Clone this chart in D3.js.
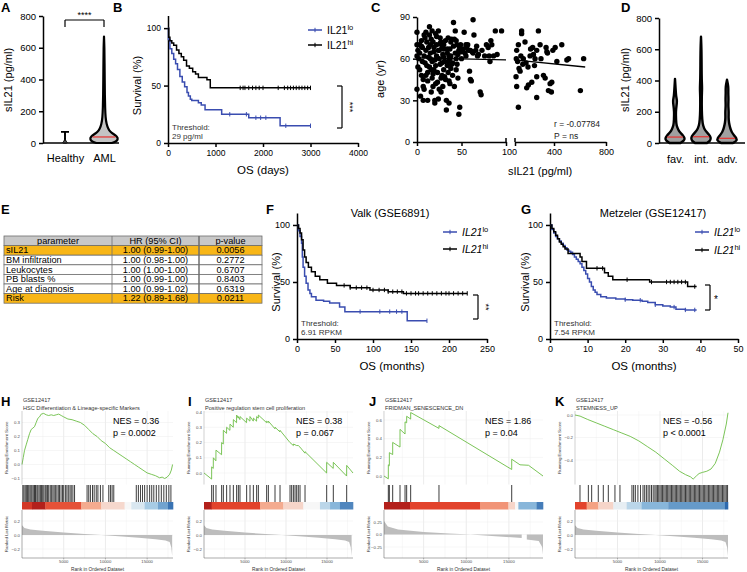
<!DOCTYPE html>
<html><head><meta charset="utf-8">
<script src="https://cdn.jsdelivr.net/npm/d3@7"></script>
<style>
body{margin:0;background:#fff;}
</style></head><body>
<svg id="fig" width="747" height="572"></svg>
<script>
// ---------------- DATA ----------------
// Panel A
const aCategories = ["Healthy", "AML"];
const aHealthyShape = [[0,0.25],[4,0.35],[12,0.1],[30,0.04],[70,0.0]];
const aAmlShape = [[0,0.55],[10,0.9],[25,1.0],[40,0.95],[55,0.7],[70,0.45],[90,0.3],[120,0.18],[160,0.11],[220,0.08],[300,0.06],[400,0.05],[500,0.04],[600,0.03],[670,0]];
const aHealthyMax = 70;
const aMedians = [3, 38];
const aTicks = [0,200,400,600,800];

// Panel B (days, survival %)
const bLo = [[0,100],[10,90],[40,82],[80,78],[120,73],[160,69],[200,64],[250,58],[300,53],[350,49],[400,44],[430,41],[470,38],[500,37],[640,35],[700,33],[780,29],[1130,25],[1700,22],[2360,15],[3000,15]];
const bHi = [[0,100],[15,92],[40,89],[80,87],[120,85],[180,81],[230,78],[280,75],[330,72],[390,67],[450,65],[520,62],[580,60],[640,57],[820,55],[890,48],[3000,48]];
const bCensorLo = [1300,1650,1850,1950,2060,2480,3000];
const bCensorHi = [1520,1580,1620,1700,1780,1850,1920,2000,2320,2450,2520,2580,2640,2700,2760,2820,2880,2940,3000];
const bXTicks = [0,1000,2000,3000,4000];

// Panel C (sIL21 pg/ml, age yr)
const cLow = [[0,79],[0,70],[1,66],[0,62],[2,60],[1,54],[3,52],[0,38],[4,33],[3,64],[5,73],[6,68],[6,58],[7,45],[7,40],[8,38],[8,62],[9,75],[10,79],[10,66],[11,72],[11,55],[12,50],[12,44],[12,30],[14,83],[14,77],[15,70],[15,64],[15,60],[16,36],[16,74],[17,58],[17,46],[18,40],[18,72],[19,68],[19,65],[20,30],[20,28],[21,55],[21,78],[22,62],[22,70],[23,50],[23,43],[24,31],[24,80],[25,66],[25,60],[26,56],[26,75],[27,46],[27,72],[28,48],[28,68],[29,40],[29,63],[30,52],[30,70],[31,47],[31,58],[32,45],[33,23],[33,30],[34,64],[34,55],[35,75],[35,50],[36,28],[36,44],[37,67],[37,60],[38,72],[38,62],[39,56],[40,48],[41,86],[41,69],[42,40],[43,80],[43,64],[44,60],[44,52],[45,70],[46,63],[46,46],[47,20],[47,66],[48,25],[49,70],[50,60],[52,67],[53,79],[54,64],[55,62],[56,68],[57,70],[58,66],[59,51],[60,45],[61,44],[63,88],[64,77],[63,64],[66,66],[67,69],[68,62],[69,63],[71,36],[72,34],[73,66],[76,62],[78,70],[80,68],[81,62],[82,58],[83,73],[84,70],[86,62],[88,80],[90,63],[95,80],[5,48],[9,57],[13,68],[16,52],[18,49],[20,59],[22,76],[24,66],[26,71],[28,57],[30,61],[32,73],[34,67],[36,62],[38,53],[40,57],[42,74],[44,73],[13,61],[10,48],[21,42],[25,38],[27,36],[7,30],[30,67],[14,54],[17,80],[19,52],[35,58],[37,42],[39,74],[45,56],[48,68],[50,65],[55,70],[60,66],[62,65],[5,69],[3,70],[8,77]];
const cHigh = [[113,66],[126,70],[151,80],[108,47],[113,40],[131,53],[139,51],[151,78],[126,25],[164,60],[177,72],[190,39],[203,41],[216,62],[229,43],[236,68],[242,63],[254,60],[267,66],[267,47],[267,32],[280,80],[293,70],[319,48],[332,46],[339,68],[345,65],[357,37],[370,42],[383,43],[391,66],[409,68],[422,58],[460,70],[499,59],[512,60],[603,37],[628,60],[110,60],[120,58],[145,62],[160,56],[185,57],[200,54],[220,67],[250,55],[300,60],[350,64],[380,36]];
const cFitLow = [[0,60.5],[100,59.2]];
const cFitHigh = [[110,59],[640,54]];
const cYTicks = [0,30,60,90];

// Panel D
const dCategories = ["fav.", "int.", "adv."];
const dShapes = [
  [[0,0.55],[15,0.9],[30,1],[50,0.8],[70,0.45],[90,0.3],[110,0.15],[150,0.1],[200,0.08],[240,0.15],[270,0.22],[300,0.1],[350,0.06],[410,0]],
  [[0,0.6],[15,0.95],[35,1],[55,0.8],[80,0.4],[110,0.2],[150,0.12],[200,0.08],[300,0.07],[350,0.12],[400,0.07],[500,0.06],[600,0.05],[680,0]],
  [[0,0.6],[15,1],[30,0.95],[50,0.7],[70,0.45],[100,0.3],[130,0.2],[160,0.15],[200,0.18],[240,0.12],[280,0.16],[320,0.12],[360,0.15],[405,0]]
];
const dMedians = [38, 40, 30];

// Panel E
const eHeader = ["parameter", "HR (95% CI)", "p-value"];
const eParams = ["sIL21", "BM infiltration", "Leukocytes", "PB blasts %", "Age at diagnosis", "Risk"];
const eHR = ["1.00 (0.99-1.00)", "1.00 (0.98-1.00)", "1.00 (1.00-1.00)", "1.00 (0.99-1.00)", "1.00 (0.99-1.02)", "1.22 (0.89-1.68)"];
const ePval = ["0.0056", "0.2772", "0.6707", "0.8403", "0.6319", "0.0211"];
const eHighlight = [true, false, false, false, false, true];

// Panel F (months)
const fLo = [[0,100],[2,95],[4,90],[6,84],[7,72],[8,63],[10,55],[12,49],[14.5,43],[17,40],[19,37],[25,34],[35,33],[43,31.5],[56,28],[63,24],[145,16],[171,16]];
const fHi = [[0,100],[2,97],[4,93],[6,87],[8,78],[10,72],[12,67],[15,63],[19,59],[24,55],[30,52],[40,49],[52,47],[70,45],[96,43],[120,41.5],[140,40],[224,40]];
const fCensorLo = [83,109,122,131,138,171];
const fCensorHi = [62,70,78,85,92,100,108,115,120,126,132,138,144,150,156,160,166,172,178,184,190,196,200,206,212,218,224];
const fXTicks = [0,50,100,150,200,250];

// Panel G (months)
const gLo = [[0,100],[0.5,96],[1,93],[1.5,90],[2,88],[2.5,86],[3,84],[3.5,82],[4,80],[4.5,78],[5,77],[5.5,76],[6,74],[6.5,72],[7,70],[7.5,68],[8,66],[8.5,63],[9,60],[9.5,57],[10,53],[10.5,50],[11,46],[11.5,43],[12,41],[12.5,39],[13.5,37],[15,36],[17.5,35],[20,34.5],[22,34],[24.5,33],[26,32],[28,30],[30,29],[32,28],[33.5,26],[36,25.5],[39,25.5]];
const gHi = [[0,100],[0.5,97],[1,94],[1.5,91],[2,88],[2.5,85],[3,83],[3.5,81],[4,79],[4.8,75],[8,72],[8.5,68],[9.7,62],[14.5,58],[15.5,55],[16.7,52],[26.5,50],[36.6,46],[39,46]];
const gCensorLo = [20,24,28,33,36,38.5];
const gCensorHi = [12.5,14,20.5,27,31,32,33,34,35,36,38.5];
const gXTicks = [0,10,20,30,40,50];
const survTicks = [0,50,100];

// GSEA panels H-K (rank, enrichment score)
const esH = [[0,0],[150,0.05],[300,0.1],[500,0.14],[700,0.18],[900,0.22],[1100,0.25],[1300,0.26],[1500,0.27],[1700,0.3],[1900,0.33],[2100,0.34],[2300,0.36],[2600,0.365],[2900,0.355],[3200,0.35],[3500,0.355],[3800,0.35],[4100,0.355],[4400,0.36],[4700,0.35],[5000,0.34],[5500,0.325],[6000,0.32],[6500,0.31],[7000,0.3],[7500,0.28],[8000,0.25],[8500,0.22],[9000,0.2],[9500,0.17],[10000,0.15],[10500,0.12],[11000,0.1],[11500,0.08],[12000,0.06],[12500,0.04],[13000,0.02],[13500,0.0],[14000,-0.02],[14500,-0.04],[15000,-0.06],[15500,-0.07],[16000,-0.08],[16500,-0.095],[16800,-0.09],[17100,-0.1],[17400,-0.09],[17700,-0.07],[17900,-0.04],[18050,0.0]];
const esI = [[0,0.0],[930,-0.04],[935,0.04],[1130,0.03],[1140,0.1],[1450,0.08],[1460,0.15],[2140,0.12],[2150,0.2],[2350,0.19],[2360,0.28],[2750,0.26],[2760,0.3],[3160,0.28],[3170,0.32],[3570,0.3],[3580,0.35],[3970,0.33],[3980,0.38],[4180,0.36],[4190,0.37],[4380,0.35],[4390,0.37],[5190,0.33],[5200,0.36],[5600,0.34],[5610,0.37],[6010,0.34],[6020,0.36],[6410,0.34],[6420,0.37],[6620,0.36],[6630,0.38],[7630,0.33],[7640,0.34],[7840,0.33],[7850,0.34],[8650,0.29],[8660,0.3],[9260,0.27],[9270,0.28],[10480,0.2],[10900,0.18],[10910,0.19],[11300,0.18],[11500,0.18],[11700,0.17],[12310,0.13],[12320,0.14],[14950,0.0],[14960,0.07],[15760,0.03],[15770,0.07],[17390,-0.02],[17400,0.05],[18170,0.0]];
const esJ = [[350,0],[860,-0.03],[860,0.12],[980,0.11],[980,0.25],[1370,0.23],[1370,0.36],[2230,0.31],[2230,0.50],[2820,0.45],[2820,0.58],[3010,0.57],[3010,0.64],[3480,0.61],[3480,0.68],[6800,0.51],[6800,0.54],[15330,0.07],[15330,0.18],[16300,0.12],[17300,0.115],[19000,0.0]];
const esK = [[0,0.0],[600,-0.01],[1500,-0.04],[2500,-0.07],[3500,-0.1],[4500,-0.13],[5500,-0.16],[6500,-0.19],[7500,-0.23],[8500,-0.28],[9500,-0.33],[10500,-0.39],[11500,-0.45],[12300,-0.5],[13000,-0.53],[13600,-0.55],[13900,-0.57],[14300,-0.54],[14600,-0.52],[15000,-0.51],[15500,-0.5],[16000,-0.48],[16500,-0.43],[17000,-0.33],[17400,-0.22],[17800,-0.08],[18000,0.02]];

const hitsH = [100,230,380,520,650,800,950,1080,1200,1350,1500,1620,1780,1900,2050,2200,2330,2480,2620,2780,2900,3050,3200,3380,3520,3700,3850,4000,4180,4350,4500,4680,4850,5000,5200,5380,5550,5750,5900,6100,6300,7800,8000,8200,8450,8650,8900,9100,9400,9700,10400,10600,10800,11000,13700,13950,14200,14450,14700,15000,15300,15550,15800,16100,16400,16700,17000,17300,17600,17850];
const hitsI = [935,1140,1460,2150,2360,2760,3170,3580,3980,4190,4390,5200,5610,6020,6420,6630,7640,7850,8660,9270,10490,10690,10900,11100,11300,11500,11710,12320,14960,15770,17400];
const hitsJ = [860,980,1370,2230,2820,3010,3480,6800,15330];
const hitsK = [587,1570,1960,2740,3330,3920,4700,5290,6700,6900,7100,7400,7700,8000,8200,8400,8600,8800,9000,9200,9400,9550,9700,9850,10000,10150,10300,10450,10600,10750,10900,11050,11200,11350,11500,11650,11800,11950,12100,12250,12400,12550,12700,12850,13000,13150,13300,13450,13600,13750,13900,14050,14200,14350,14500,14650,14800,14950,15100,15250,15400,15550,15700,15850,16000,16150,16300,16450,16600,16750,16900,17050,17200,17350,17500,17650,17800,17950];

// colour-bar bins: [rankStart, rankEnd, signed level]
const binsH = [[0,1200,0.9],[1200,2800,1.0],[2800,7100,0.8],[7100,9500,0.45],[9500,12300,0.18],[12300,13100,0],[13100,14700,-0.15],[14700,16300,-0.4],[16300,17500,-0.65],[17500,18100,-0.9]];
const binsI = [[0,935,1.0],[935,6830,0.85],[6830,9670,0.45],[9670,12110,0.2],[12110,14140,0],[14140,15370,-0.3],[15370,16580,-0.55],[16580,18170,-0.8]];
const binsJ = [[350,3400,1.0],[3400,11610,0.85],[11610,14940,0.55],[14940,15720,0.2],[15720,16110,0],[16110,18260,-0.55],[18260,19000,-0.85]];
const binsK = [[0,1370,0.85],[1370,2740,0.5],[2740,4510,0.2],[4510,6080,-0.08],[6080,7840,-0.3],[7840,10970,-0.55],[10970,17640,-0.7],[17640,18000,-0.95]];

// ranked list metric
const metricHIK = [[0,0.14],[300,0.1],[1000,0.08],[2500,0.06],[5000,0.035],[7500,0.015],[9500,0],[12000,-0.02],[14000,-0.04],[16000,-0.06],[17200,-0.08],[17700,-0.1],[17900,-0.18],[18000,-0.3]];
const metricJ = [[350,0.27],[800,0.16],[2000,0.1],[5000,0.05],[8000,0.02],[10500,0],[13000,-0.03],[16500,-0.07],[16510,null],[17090,null],[17100,-0.1],[18500,-0.13],[18900,-0.25],[19000,-0.4]];

// ---------------- DRAWING ----------------
const FONT = '"Liberation Sans", Arial, Helvetica, sans-serif';
const svg = d3.select("#fig").attr("font-family", FONT);
svg.append("rect").attr("width",747).attr("height",572).attr("fill","#fff");
const BLUE = "#3a4db0";

function letter(x, y, t) {
  svg.append("text").attr("x", x).attr("y", y).attr("font-size", 13).attr("font-weight", "bold").text(t);
}
function text(x, y, t, fs, anchor, fill) {
  return svg.append("text").attr("x", x).attr("y", y).attr("font-size", fs)
    .attr("text-anchor", anchor || "start").attr("fill", fill || "#000").text(t);
}
function rotText(x, y, t, fs) {
  svg.append("text").attr("transform", `translate(${x},${y}) rotate(-90)`)
    .attr("text-anchor", "middle").attr("font-size", fs).text(t);
}
function styleAxis(g, fs, sw) {
  g.selectAll("path.domain").attr("stroke", "#000").attr("stroke-width", sw || 1.5);
  g.selectAll(".tick line").attr("stroke", "#000").attr("stroke-width", sw || 1.5);
  g.selectAll(".tick text").attr("font-size", fs).attr("font-family", FONT).attr("fill", "#000");
}
function line(x1, y1, x2, y2, sw, col) {
  svg.append("line").attr("x1", x1).attr("y1", y1).attr("x2", x2).attr("y2", y2)
    .attr("stroke", col || "#000").attr("stroke-width", sw || 1.2);
}

// ---- violin helper
function violin(shape, cx, yS, half, fill, sw, median) {
  const area = d3.area().curve(d3.curveBasis)
    .y(d => yS(d[0])).x0(d => cx - d[1] * half).x1(d => cx + d[1] * half);
  svg.append("path").datum(shape).attr("d", area).attr("fill", fill)
    .attr("stroke", "#000").attr("stroke-width", sw).attr("stroke-linejoin", "round");
  if (median !== undefined) {
    const wAt = d3.scaleLinear().domain(shape.map(d => d[0])).range(shape.map(d => d[1]));
    const w = wAt(median) * half * 0.85;
    line(cx - w, yS(median), cx + w, yS(median), 1.2, "#e8312f");
  }
}

// ===== Panel A =====
letter(1, 12, "A");
{
  const y = d3.scaleLinear().domain([0, 800]).range([143, 16]);
  const x = d3.scalePoint().domain(aCategories).range([65, 104]);
  const ga = svg.append("g").attr("transform", "translate(43,0)")
    .call(d3.axisLeft(y).tickValues(aTicks).tickSize(4).tickSizeOuter(0));
  styleAxis(ga, 9.5);
  line(43, 143, 119, 143, 1.6);
  const gx = svg.append("g").attr("transform", "translate(0,143)")
    .call(d3.axisBottom(x).tickSize(0).tickPadding(11));
  gx.select("path.domain").remove();
  gx.selectAll(".tick text").attr("font-size", 11).attr("font-family", FONT).attr("fill", "#000");
  rotText(12, 80, "sIL21 (pg/ml)", 11);
  // healthy
  const hx = x("Healthy");
  line(hx, y(0), hx, y(aHealthyMax), 1.8);
  line(hx - 4, y(aHealthyMax), hx + 4, y(aHealthyMax), 1.8);
  violin(aHealthyShape, hx, y, 7, "#555", 1, undefined);
  // AML
  violin(aAmlShape, x("AML"), y, 14, "#c4c4c4", 2.2, aMedians[1]);
  // bracket
  line(hx, 27, hx, 20, 1.2); line(hx, 20, x("AML"), 20, 1.2); line(x("AML"), 20, x("AML"), 27, 1.2);
  text((hx + x("AML")) / 2, 18, "****", 9, "middle");
}

// ===== KM helper =====
function drawKM(o) {
  const x = d3.scaleLinear().domain(o.xDomain).range(o.xRange);
  const y = d3.scaleLinear().domain([0, o.yMax]).range(o.yRange);
  const gx = svg.append("g").attr("transform", `translate(0,${o.yRange[0]})`)
    .call(d3.axisBottom(x).tickValues(o.xTicks).tickSize(4).tickSizeOuter(0).tickFormat(d3.format("d")));
  styleAxis(gx, o.tickFs);
  const gy = svg.append("g").attr("transform", `translate(${o.xRange[0]},0)`)
    .call(d3.axisLeft(y).tickValues(survTicks).tickSize(4).tickSizeOuter(0));
  styleAxis(gy, o.tickFs);
  const ln = d3.line().x(d => x(d[0])).y(d => y(d[1])).curve(d3.curveStepAfter);
  o.curves.forEach(c => {
    svg.append("path").datum(c.data).attr("d", ln).attr("fill", "none")
      .attr("stroke", c.color).attr("stroke-width", 1.5);
    c.censor.forEach(t => {
      let s = c.data[0][1];
      c.data.forEach(d => { if (d[0] <= t) s = d[1]; });
      line(x(t), y(s) - 2.2, x(t), y(s) + 2.2, 1, c.color);
    });
  });
  rotText(o.yLabelX, y(50), "Survival (%)", 11);
  text((o.xRange[0] + o.xRange[1]) / 2, o.yRange[0] + 31, o.xLabel, 11.5, "middle");
  // legend
  o.curves.forEach((c, i) => {
    const ly = o.legend[1] + i * o.legend[2];
    line(o.legend[0], ly, o.legend[0] + 14, ly, 1.5, c.color);
    line(o.legend[0] + 7, ly - 2.2, o.legend[0] + 7, ly + 2.2, 1, c.color);
    const t = svg.append("text").attr("x", o.legend[0] + 19).attr("y", ly + 3.5).attr("font-size", 10.5)
      .attr("font-style", o.italic ? "italic" : "normal");
    t.append("tspan").text("IL21");
    t.append("tspan").attr("dy", -4).attr("font-size", 7.5).attr("font-style", "normal").text(c.sup);
  });
  // bracket
  const b = o.bracket;
  line(b[0] - 5, b[1], b[0], b[1], 1.2); line(b[0], b[1], b[0], b[2], 1.2); line(b[0] - 5, b[2], b[0], b[2], 1.2);
  if (o.starsRot) {
    svg.append("text").attr("transform", `translate(${b[0] + 5},${(b[1] + b[2]) / 2}) rotate(90)`)
      .attr("text-anchor", "middle").attr("font-size", 9).text(o.stars);
  } else {
    text(b[0] + 4, (b[1] + b[2]) / 2 + 5, o.stars, 10, "start");
  }
  text(o.xRange[0] + 4, o.thrY, "Threshold:", 8, "start", "#333");
  text(o.xRange[0] + 4, o.thrY + 9, o.thr, 8, "start", "#333");
}

// ===== Panel B =====
letter(113, 12, "B");
drawKM({
  xDomain: [0, 4000], xRange: [168, 358], yMax: 111, yRange: [143, 15.5], xTicks: bXTicks,
  tickFs: 8.5, yLabelX: 141, xLabel: "OS (days)",
  curves: [{data: bLo, color: BLUE, censor: bCensorLo, sup: "lo"}, {data: bHi, color: "#000", censor: bCensorHi, sup: "hi"}],
  legend: [308, 30, 15], italic: false, bracket: [342, 86, 128], stars: "***", starsRot: true,
  thrY: 130, thr: "29 pg/ml"
});

// ===== Panel C =====
letter(371, 12, "C");
{
  const y = d3.scaleLinear().domain([0, 90]).range([142, 17]);
  const x1 = d3.scaleLinear().domain([0, 100]).range([417, 506]);
  const x2 = d3.scaleLinear().domain([100, 800]).range([515, 606]);
  const gy = svg.append("g").attr("transform", "translate(417,0)")
    .call(d3.axisLeft(y).tickValues(cYTicks).tickSize(4).tickSizeOuter(0));
  styleAxis(gy, 9);
  const g1 = svg.append("g").attr("transform", "translate(0,142)")
    .call(d3.axisBottom(x1).tickValues([0, 50, 100]).tickSize(4).tickSizeOuter(0));
  styleAxis(g1, 9);
  g1.selectAll(".tick text").filter(d => d === 100).attr("dx", 3);
  const g2 = svg.append("g").attr("transform", "translate(0,142)")
    .call(d3.axisBottom(x2).tickValues([100, 400, 800]).tickSize(4).tickSizeOuter(0));
  styleAxis(g2, 9);
  g2.selectAll(".tick text").filter(d => d === 100).remove();
  line(x1(100), 138, x1(100), 142, 1.5); line(x2(100), 138, x2(100), 142, 1.5);
  svg.append("g").selectAll("circle").data(cLow).join("circle")
    .attr("cx", d => x1(d[0])).attr("cy", d => y(d[1])).attr("r", 2.7).attr("fill", "#000");
  svg.append("g").selectAll("circle").data(cHigh).join("circle")
    .attr("cx", d => x2(d[0])).attr("cy", d => y(d[1])).attr("r", 2.7).attr("fill", "#000");
  const l1 = d3.line().x(d => x1(d[0])).y(d => y(d[1]));
  const l2 = d3.line().x(d => x2(d[0])).y(d => y(d[1]));
  svg.append("path").attr("d", l1(cFitLow)).attr("stroke", "#000").attr("stroke-width", 1.3).attr("fill", "none");
  svg.append("path").attr("d", l2(cFitHigh)).attr("stroke", "#000").attr("stroke-width", 1.3).attr("fill", "none");
  rotText(384, 79, "age (yr)", 11);
  text(540, 175, "sIL21 (pg/ml)", 11, "middle");
  text(554, 127, "r = -0.07784", 8.5, "start", "#222");
  text(554, 139, "P = ns", 8.5, "start", "#222");
}

// ===== Panel D =====
letter(621, 12, "D");
{
  const y = d3.scaleLinear().domain([0, 800]).range([143, 18]);
  const x = d3.scalePoint().domain(dCategories).range([675, 727]);
  const gy = svg.append("g").attr("transform", "translate(659,0)")
    .call(d3.axisLeft(y).tickValues(aTicks).tickSize(4).tickSizeOuter(0));
  styleAxis(gy, 9.5);
  line(659, 143, 745, 143, 1.6);
  const gx = svg.append("g").attr("transform", "translate(0,143)")
    .call(d3.axisBottom(x).tickSize(0).tickPadding(12));
  gx.select("path.domain").remove();
  gx.selectAll(".tick text").attr("font-size", 11).attr("font-family", FONT).attr("fill", "#000");
  rotText(629, 80, "sIL21 (pg/ml)", 11);
  dCategories.forEach((c, i) => violin(dShapes[i], x(c), y, 10, "#a0a0a0", 2.4, dMedians[i]));
}

// ===== Panel E =====
letter(1, 214, "E");
{
  const cols = [4, 112, 199, 262];
  const top = 236, rh = 9.6;
  const rows = [eHeader].concat(eParams.map((p, i) => [p, eHR[i], ePval[i]]));
  rows.forEach((r, i) => {
    const fill = i === 0 ? "#c8c8c8" : (eHighlight[i - 1] ? "#f8b617" : "#fff");
    svg.append("rect").attr("x", cols[0]).attr("y", top + i * rh).attr("width", cols[3] - cols[0]).attr("height", rh)
      .attr("fill", fill).attr("stroke", "#6e6e6e").attr("stroke-width", 0.8);
    r.forEach((v, j) => {
      const cx = (j === 0 && i > 0) ? cols[0] + 2 : (cols[j] + cols[j + 1]) / 2;
      text(cx, top + i * rh + 7.8, v, 9.2, (j === 0 && i > 0) ? "start" : "middle", "#000");
    });
  });
  [1, 2].forEach(j => line(cols[j], top, cols[j], top + rows.length * rh, j === 2 ? 1.5 : 0.8, "#6e6e6e"));
}

// ===== Panel F =====
letter(266, 214, "F");
text(390, 217, "Valk (GSE6891)", 11, "middle");
drawKM({
  xDomain: [0, 250], xRange: [297, 487], yMax: 110.5, yRange: [339, 213], xTicks: fXTicks,
  tickFs: 9, yLabelX: 280, xLabel: "OS (months)",
  curves: [{data: fLo, color: BLUE, censor: fCensorLo, sup: "lo"}, {data: fHi, color: "#000", censor: fCensorHi, sup: "hi"}],
  legend: [443, 232, 17], italic: true, bracket: [478, 295, 319], stars: "**", starsRot: true,
  thrY: 326, thr: "6.91 RPKM"
});

// ===== Panel G =====
letter(521, 214, "G");
text(653, 217, "Metzeler (GSE12417)", 11, "middle");
drawKM({
  xDomain: [0, 50], xRange: [550, 738], yMax: 110.5, yRange: [339, 213], xTicks: gXTicks,
  tickFs: 9, yLabelX: 529, xLabel: "OS (months)",
  curves: [{data: gLo, color: BLUE, censor: gCensorLo, sup: "lo"}, {data: gHi, color: "#000", censor: gCensorHi, sup: "hi"}],
  legend: [695, 232, 18], italic: true, bracket: [710, 285, 310], stars: "*", starsRot: false,
  thrY: 326, thr: "7.54 RPKM"
});

// ===== GSEA panels =====
const levelColor = d3.scaleLinear().domain([-1, -0.5, 0, 0.5, 0.85, 1])
  .range(["#2360a8", "#93c0df", "#f7f7f7", "#f4a283", "#e2432c", "#b3201b"]);
const fmt1 = d => d === 0 ? "0.0" : d3.format(".1f")(d);
const fmt2 = d => d === 0 ? "0.0" : d3.format(".2f")(d);
const gseaPanels = [
  {letter: "H", name: "HSC Differentiation & Lineage-specific Markers", nes: "NES = 0.36", p: "p = 0.0002",
   es: esH, hits: hitsH, bins: binsH, metric: metricHIK, esTicks: [-0.1, 0, 0.1, 0.2, 0.3], esDom: [-0.1, 0.3], esRng: [478.5, 422.5],
   mTicks: [-0.2, 0, 0.2], mDom: [-0.2, 0.2], mRng: [549, 521], mFmt: fmt1, xMax: 18100, xl: 22, xr: 173, lx: 1, nx: 113},
  {letter: "I", name: "Positive regulation stem cell proliferation", nes: "NES = 0.38", p: "p = 0.067",
   es: esI, hits: hitsI, bins: binsI, metric: metricHIK, esTicks: [0, 0.1, 0.2, 0.3, 0.4], esDom: [0, 0.4], esRng: [473, 412],
   mTicks: [-0.2, 0, 0.2], mDom: [-0.2, 0.2], mRng: [549, 521], mFmt: fmt1, xMax: 18170, xl: 204, xr: 353, lx: 188, nx: 296},
  {letter: "J", name: "FRIDMAN_SENESCENCE_DN", nes: "NES = 1.86", p: "p = 0.04",
   es: esJ, hits: hitsJ, bins: binsJ, metric: metricJ, esTicks: [0, 0.2, 0.4, 0.6], esDom: [0, 0.6], esRng: [476, 420],
   mTicks: [-0.25, 0, 0.25], mDom: [-0.25, 0.25], mRng: [547, 522], mFmt: fmt2, xMax: 19000, xl: 381, xr: 543, lx: 369, nx: 485},
  {letter: "K", name: "STEMNESS_UP", nes: "NES = -0.56", p: "p < 0.0001",
   es: esK, hits: hitsK, bins: binsK, metric: metricHIK, esTicks: [-0.4, -0.2, 0], esDom: [-0.4, 0], esRng: [460, 415],
   mTicks: [-0.2, 0, 0.2], mDom: [-0.2, 0.2], mRng: [549, 521], mFmt: fmt1, xMax: 18000, xl: 575, xr: 728, lx: 555, nx: 663}
];
const ES_TOP = 411, ES_BOT = 484.5, HIT_TOP = 485, HIT_BOT = 502, BAR_TOP = 502, BAR_BOT = 509.5, M_TOP = 510, M_BOT = 558;

gseaPanels.forEach(p => {
  const x = d3.scaleLinear().domain([0, p.xMax]).range([p.xl, p.xr]);
  const yE = d3.scaleLinear().domain(p.esDom).range(p.esRng);
  const yM = d3.scaleLinear().domain(p.mDom).range(p.mRng);
  const left = Math.max(p.xl, x(p.bins[0][0]));
  letter(p.lx, 406, p.letter);
  text(left + 1, 402, "GSE12417", 5.6, "start", "#333");
  text(left + 1, 410, p.name, 5.6, "start", "#333");
  const grid = svg.append("g");
  [2500, 5000, 7500, 10000, 12500, 15000, 17500].forEach(r => {
    const major = r % 5000 === 0;
    [[ES_TOP, ES_BOT], [M_TOP, M_BOT]].forEach(rg => {
      grid.append("line").attr("x1", x(r)).attr("x2", x(r)).attr("y1", rg[0]).attr("y2", rg[1])
        .attr("stroke", major ? "#e3e3e3" : "#f0f0f0").attr("stroke-width", major ? 0.7 : 0.5);
    });
  });
  p.esTicks.forEach(t => grid.append("line").attr("x1", left).attr("x2", p.xr).attr("y1", yE(t)).attr("y2", yE(t))
    .attr("stroke", "#ececec").attr("stroke-width", 0.5));
  p.mTicks.forEach(t => grid.append("line").attr("x1", left).attr("x2", p.xr).attr("y1", yM(t)).attr("y2", yM(t))
    .attr("stroke", "#ececec").attr("stroke-width", 0.5));
  // ES curve
  svg.append("path").datum(p.es).attr("d", d3.line().x(d => x(d[0])).y(d => yE(d[1])))
    .attr("fill", "none").attr("stroke", "#6cbd45").attr("stroke-width", 0.9);
  // ES ticks
  p.esTicks.forEach(t => text(left - 2, yE(t) + 1.5, fmt1(t), 4.3, "end", "#4d4d4d"));
  svg.append("text").attr("transform", `translate(${left - 14},${(ES_TOP + ES_BOT) / 2}) rotate(-90)`)
    .attr("text-anchor", "middle").attr("font-size", 4.4).attr("fill", "#333").text("Running Enrichment Score");
  line(left, ES_TOP, left, ES_BOT, 0.4, "#888");
  // hits
  svg.append("g").selectAll("line").data(p.hits).join("line")
    .attr("x1", d => x(d)).attr("x2", d => x(d)).attr("y1", HIT_TOP).attr("y2", HIT_BOT)
    .attr("stroke", "#111").attr("stroke-width", 0.9).attr("opacity", 0.9);
  // colour bar
  svg.append("g").selectAll("rect").data(p.bins).join("rect")
    .attr("x", d => x(d[0])).attr("width", d => x(d[1]) - x(d[0]) + 0.3)
    .attr("y", BAR_TOP).attr("height", BAR_BOT - BAR_TOP).attr("fill", d => levelColor(d[2]));
  // ranked list metric
  const area = d3.area().defined(d => d[1] !== null).x(d => x(d[0])).y0(yM(0)).y1(d => yM(d[1]));
  svg.append("path").datum(p.metric).attr("d", area).attr("fill", "#bdbdbd");
  p.mTicks.forEach(t => text(left - 2, yM(t) + 1.5, p.mFmt(t), 4.3, "end", "#4d4d4d"));
  svg.append("text").attr("transform", `translate(${left - 14},${(M_TOP + M_BOT) / 2}) rotate(-90)`)
    .attr("text-anchor", "middle").attr("font-size", 4.4).attr("fill", "#333").text("Ranked List Metric");
  line(left, M_TOP, left, M_BOT, 0.5, "#555");
  line(left, M_BOT, p.xr, M_BOT, 0.5, "#555");
  [5000, 10000, 15000].forEach(r => {
    line(x(r), M_BOT, x(r), M_BOT + 1.5, 0.4, "#555");
    text(x(r), M_BOT + 5, String(r), 4.2, "middle", "#4d4d4d");
  });
  text((left + p.xr) / 2, 571, "Rank in Ordered Dataset", 4.8, "middle", "#333");
  // NES
  text(p.nx, 424, p.nes, 9, "start", "#000");
  text(p.nx, 436, p.p, 9, "start", "#000");
});
</script></body></html>
